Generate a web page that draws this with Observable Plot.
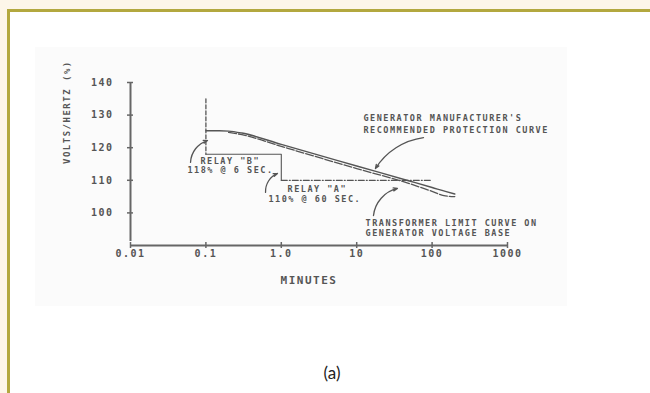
<!DOCTYPE html>
<html>
<head>
<meta charset="utf-8">
<script src="https://cdn.jsdelivr.net/npm/d3@7"></script>
<script src="https://cdn.jsdelivr.net/npm/@observablehq/plot@0.6"></script>
<style>
  html, body { margin: 0; padding: 0; }
  body { width: 650px; height: 393px; background: #fdf6e9; position: relative; overflow: hidden; }
  #frame { position: absolute; left: 7px; top: 9px; width: 700px; height: 500px;
           border-top: 3px solid #b3a83f; border-left: 3px solid #b3a83f; background: #ffffff; }
  #scan { position: absolute; left: 35px; top: 47px; width: 532px; height: 259px; background: #fbfbfb; }
  #chart { position: absolute; left: 0; top: 0; }
  #cap { position: absolute; left: 282px; width: 100px; top: 362px; text-align: center;
         font-family: Lato, "Open Sans", sans-serif; font-size: 17px; color: #222; }
</style>
</head>
<body>
<div id="frame"></div>
<div id="scan"></div>
<div id="chart"></div>
<div id="cap">(a)</div>
<script>
// ---- data ----
const xTicks = [0.01, 0.1, 1, 10, 100, 1000];
const xTickLabels = ["0.01", "0.1", "1.0", "10", "100", "1000"];
const yTicks = [100, 110, 120, 130, 140];

// generator manufacturer's recommended protection curve (minutes, %)
const genX = [0.1, 0.15, 0.2, 0.3, 1, 10, 50, 100, 150, 200];
const genY = [125.2, 125.2, 125.1, 124.5, 121.0, 114.4, 109.8, 107.8, 106.6, 105.8];

// transformer limit curve on generator voltage base
const transX = [0.2, 0.3, 1, 10, 50, 100, 150, 200];
const transY = [124.7, 124.0, 120.4, 113.6, 109.0, 106.6, 105.2, 105.0];

// relay B (118% @ 6 sec) and relay A (110% @ 60 sec)
const relayBX = [0.1, 0.1];
const relayBY = [135, 118];
const stepX = [0.1, 1.0, 1.0];
const stepY = [118, 118, 110];
const relayAX = [1.0, 95];
const relayAY = [110, 110];

// annotation labels
const noteText = ["GENERATOR MANUFACTURER'S", "RECOMMENDED PROTECTION CURVE",
  "TRANSFORMER LIMIT CURVE ON", "GENERATOR VOLTAGE BASE",
  'RELAY "B"', "118% @ 6 SEC.", 'RELAY "A"', "110% @ 60 SEC."];
const noteX = [12.3, 12.3, 13.1, 13.1, 0.0847, 0.057, 1.21, 0.676];
const noteY = [128.95, 125.3, 96.75, 93.7, 115.8, 113.0, 107.2, 104.1];

// leader arrows (tail -> head)
const arrowX1 = [76.9, 16.7, 0.0625, 0.618];
const arrowY1 = [123.1, 99.2, 115.5, 106.3];
const arrowX2 = [17.7, 34.7, 0.105, 0.89];
const arrowY2 = [113.6, 107.5, 122.2, 112.1];
const arrowTurn = [-1, 1, 1, 1];

const yLabel = "VOLTS/HERTZ (%)";
const xLabel = "MINUTES";

// ---- build ----
const pts = (xs, ys) => xs.map((x, i) => ({x, y: ys[i]}));
const notes = noteText.map((t, i) => ({text: t, x: noteX[i], y: noteY[i]}));
const arrows = arrowX1.map((x1, i) => ({x1, y1: arrowY1[i], x2: arrowX2[i], y2: arrowY2[i], turn: arrowTurn[i]}));

const ink = "#555";
const axisInk = "#666";

const chart = Plot.plot({
  width: 650,
  height: 393,
  marginLeft: 130,
  marginRight: 143,
  marginTop: 82,
  marginBottom: 148,
  x: {type: "log", domain: [0.01, 1000]},
  y: {domain: [90, 140]},
  style: {background: "transparent", fontFamily: "'DejaVu Sans Mono', monospace", letterSpacing: "1.5px", color: ink},
  marks: [
    // axis lines
    Plot.ruleX([0.01], {y1: 90, y2: 140, insetTop: -4, stroke: axisInk, strokeWidth: 2}),
    Plot.ruleY([90], {x1: 0.01, x2: 1000, stroke: axisInk, strokeWidth: 2}),
    // axes (ticks crossing the axis line)
    Plot.axisX({ticks: xTicks, tickFormat: d => xTickLabels[xTicks.indexOf(d)], tickSize: 6, dy: -3,
      tickPadding: 1, stroke: axisInk, strokeWidth: 1.5, fill: ink, fontSize: 10, fontWeight: "bold", label: null}),
    Plot.axisY({ticks: yTicks, tickFormat: d => String(d), tickSize: 6, dx: 3,
      tickPadding: 14, stroke: axisInk, strokeWidth: 1.5, fill: ink, fontSize: 10, fontWeight: "bold", label: null}),
    // curves
    Plot.line(pts(genX, genY), {x: "x", y: "y", stroke: ink, strokeWidth: 1.4, curve: "monotone-x"}),
    Plot.line(pts(transX, transY), {x: "x", y: "y", stroke: ink, strokeWidth: 1.3, strokeDasharray: "8,2", curve: "monotone-x"}),
    Plot.line(pts(relayBX, relayBY), {x: "x", y: "y", stroke: ink, strokeWidth: 1.3, strokeDasharray: "4,2"}),
    Plot.line(pts(stepX, stepY), {x: "x", y: "y", stroke: ink, strokeWidth: 1.1}),
    Plot.line(pts(relayAX, relayAY), {x: "x", y: "y", stroke: ink, strokeWidth: 1.2, strokeDasharray: "6,2,1,2"}),
    // leaders
    Plot.arrow(arrows.filter(d => d.turn > 0), {x1: "x1", y1: "y1", x2: "x2", y2: "y2", bend: 35,
      stroke: ink, strokeWidth: 1.3, headLength: 5, headAngle: 40}),
    Plot.arrow(arrows.filter(d => d.turn < 0), {x1: "x1", y1: "y1", x2: "x2", y2: "y2", bend: -25,
      stroke: ink, strokeWidth: 1.3, headLength: 5, headAngle: 40}),
    // annotation text
    Plot.text(notes, {x: "x", y: "y", text: "text", textAnchor: "start", fontSize: 8.5, fontWeight: "bold", fill: ink}),
    // axis titles
    Plot.text([yLabel], {frameAnchor: "left", dx: -63, rotate: -90, fontSize: 9, fontWeight: "bold", fill: ink}),
    Plot.text([xLabel], {frameAnchor: "bottom", dx: -10, dy: 38, fontSize: 11, fontWeight: "bold", fill: ink})
  ]
});
document.getElementById("chart").appendChild(chart);
</script>
</body>
</html>
